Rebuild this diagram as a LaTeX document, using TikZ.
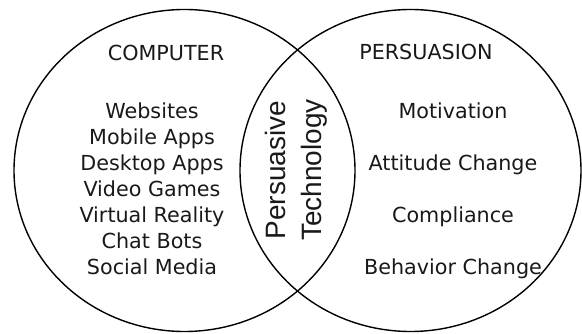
\documentclass[tikz,border=0pt]{standalone}
\usepackage{fontspec}
\setmainfont{DejaVu Sans}
\newfontfamily\overlapfont{Liberation Sans}
\usetikzlibrary{positioning}

\tikzset{
  venn/.style={line width=1.4pt, black},
  item/.style={anchor=base, inner sep=0pt, text=black!90},
  heading/.style={item},
}

\begin{document}
\begin{tikzpicture}[x=1pt,y=-1pt,font=\fontsize{20.7}{25}\selectfont]
    \useasboundingbox (0,0) rectangle (582,334);

    % the two sets
    \draw[venn] (184.5,170.5) ellipse [x radius=170.5pt, y radius=161pt];
    \draw[venn] (410.5,170.5) ellipse [x radius=170.5pt, y radius=161pt];

    % left set
    \node[heading] (computer) at (166, 61) {COMPUTER};
    \node[item] (websites) at (152, 119) {Websites};
    \node[item] (mobile)   at (152, 145) {Mobile Apps};
    \node[item] (desktop)  at (152, 171) {Desktop Apps};
    \node[item] (games)    at (152, 197) {Video Games};
    \node[item] (vr)       at (152, 223) {Virtual Reality};
    \node[item] (bots)     at (152, 249) {Chat Bots};
    \node[item] (social)   at (152, 275) {Social Media};

    % right set
    \node[heading] (persuasion) at (426, 60) {PERSUASION};
    \node[item] (motivation) at (453, 119) {Motivation};
    \node[item] (attitude)   at (453, 171) {Attitude Change};
    \node[item] (compliance) at (453, 223) {Compliance};
    \node[item] (behavior)   at (453, 275) {Behavior Change};

    % the overlap
    \node[rotate=90, align=center, inner sep=0pt, text=black!90,
          font=\overlapfont\fontsize{28}{36}\selectfont] (pt) at (296, 170)
          {Persuasive\\Technology};
\end{tikzpicture}
\end{document}
